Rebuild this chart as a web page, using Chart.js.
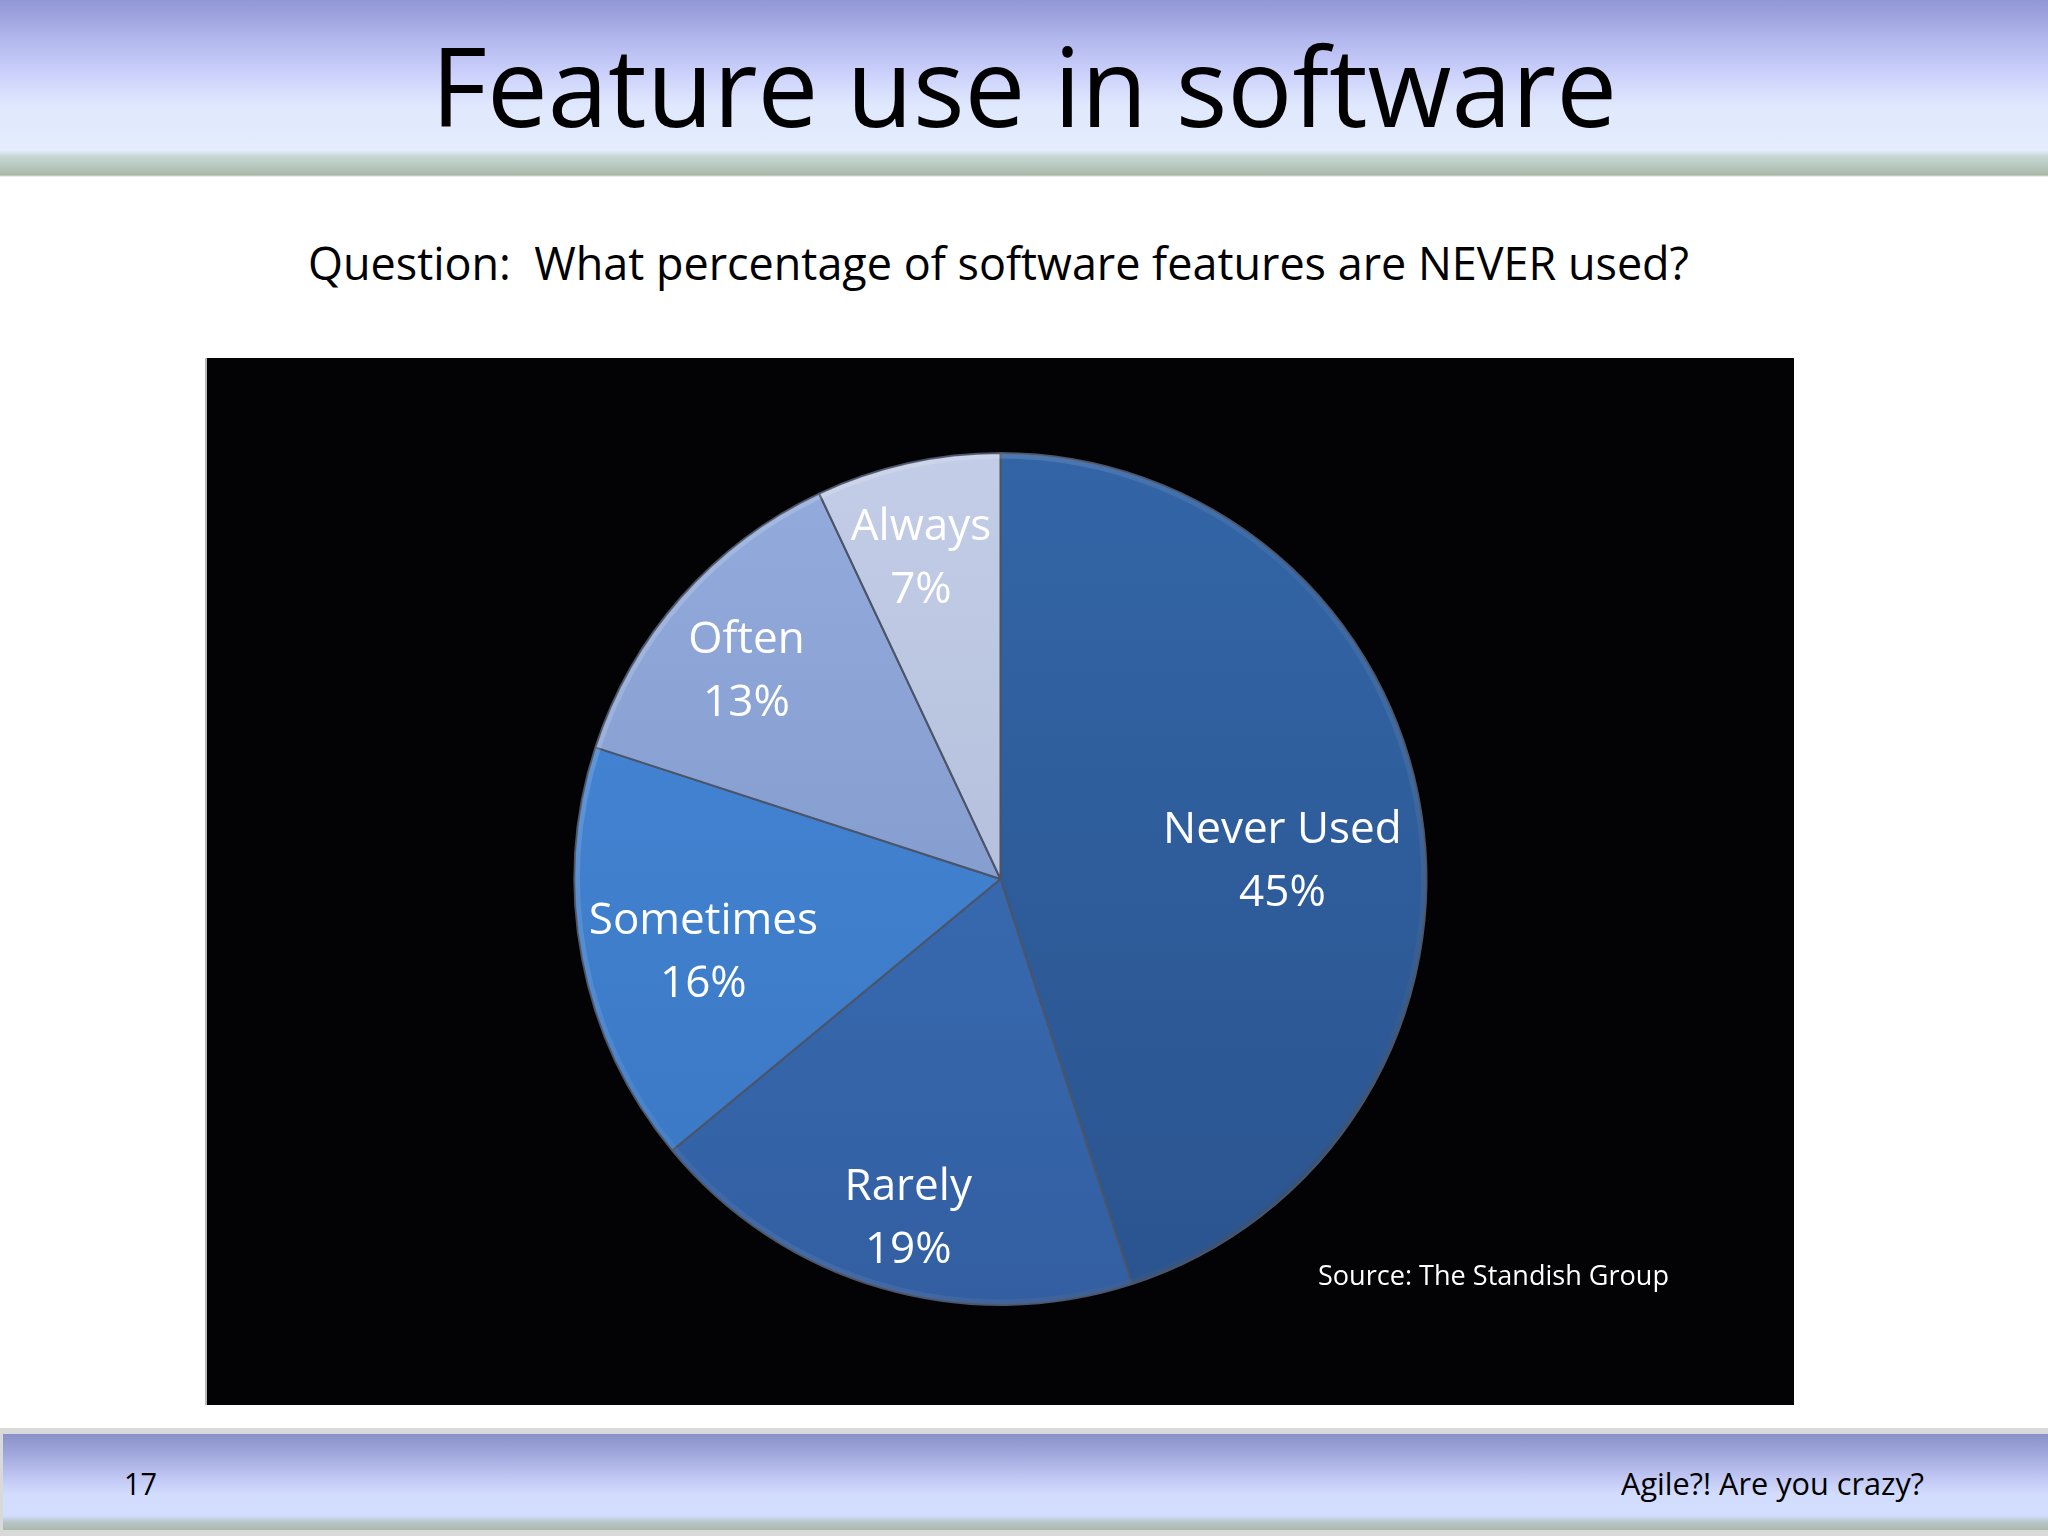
<!DOCTYPE html>
<html>
<head>
<meta charset="utf-8">
<script src="https://cdn.jsdelivr.net/npm/chart.js@4.4.1/dist/chart.umd.min.js"></script>
<style>
    html, body { margin: 0; padding: 0; }
    body {
        width: 2048px; height: 1536px; position: relative; overflow: hidden;
        background: #ffffff; font-family: 'Open Sans', 'Noto Sans', sans-serif;
    }
    .header {
        position: absolute; left: 0; top: 0; width: 2048px; height: 177px;
        background: linear-gradient(to bottom,
            #9196d5 0px, #b3b8ee 40px, #ccd2fb 75px, #dfe8fd 105px, #e4edfd 150px,
            #c9d8d6 156px, #a9b8a8 175px, #ffffff 177px);
    }
    .footer-line {
        position: absolute; left: 0; top: 1428px; width: 2048px; height: 108px;
        background: #d9d9d9;
    }
    .footer {
        position: absolute; left: 3px; top: 1434px; width: 2045px; height: 96px;
        background: linear-gradient(to bottom,
            #8991c8 0px, #a3aade 22px, #c2c9f4 45px, #d2dcfd 60px, #d3ddfd 82px,
            #b6c6c6 88px, #aab8ad 96px);
    }
    .txt {
        position: absolute; white-space: nowrap; line-height: 1; color: #000;
        transform-origin: left top;
    }
    #chart-box {
        position: absolute; left: 205px; top: 358px; width: 1587px; height: 1047px;
        background: #030305; border-left: 2px solid #b8b8b8;
    }
</style>
</head>
<body>
<div class="header"></div>
<div class="footer-line"></div>
<div class="footer"></div>

<div class="txt" id="title" data-w="1186" style="left:431px; top:29px; font-size:110px;">Feature use in software</div>
<div class="txt" id="question" data-w="1381" style="left:308px; top:240px; font-size:45px;">Question:&nbsp; What percentage of software features are NEVER used?</div>
<div class="txt" id="slide-no" data-w="33" style="left:124px; top:1468px; font-size:31px;">17</div>
<div class="txt" id="footer-text" data-w="303" style="left:1621px; top:1468px; font-size:31px;">Agile?! Are you crazy?</div>

<div id="chart-box"><canvas id="pie-chart"></canvas></div>
<div class="txt" id="source" data-w="351" style="left:1318px; top:1260px; font-size:28px; color:#ffffff;">Source: The Standish Group</div>

<script>
const categories = ['Never Used', 'Rarely', 'Sometimes', 'Often', 'Always'];
const percentages = [45, 19, 16, 13, 7];

// top / bottom colour of each slice's gradient
const sliceTop = ['#3365a6', '#3b72ba', '#4689d8', '#93acdd', '#c3cde7'];
const sliceBottom = ['#2a548f', '#335fa2', '#3a76c2', '#7890c2', '#a7b4d2'];

// label placement: fraction of radius along the slice middle, plus a small nudge
const labelRadius = [0.67, 0.81, 0.71, 0.77, 0.77];
const labelNudge = [[0, 27], [4, 8], [0, 17], [-8, 9], [-8, 0]];

document.addEventListener('DOMContentLoaded', () => {
    fitTexts();
    renderPie();
});

function fitTexts() {
    document.querySelectorAll('.txt[data-w]').forEach(el => {
        const target = parseFloat(el.dataset.w);
        const actual = el.getBoundingClientRect().width;
        if (actual > 0) el.style.transform = `scaleX(${target / actual})`;
    });
}

function sliceGradient(ctx) {
    const chart = ctx.chart;
    const area = chart.chartArea;
    if (!area) return sliceTop[ctx.dataIndex];
    const g = chart.ctx.createLinearGradient(0, area.top, 0, area.bottom);
    g.addColorStop(0, sliceTop[ctx.dataIndex]);
    g.addColorStop(1, sliceBottom[ctx.dataIndex]);
    return g;
}

const bevelPlugin = {
    id: 'bevel',
    afterDatasetsDraw(chart) {
        const ctx = chart.ctx;
        chart.getDatasetMeta(0).data.forEach(arc => {
            const { x, y, startAngle, endAngle, outerRadius } = arc.getProps(['x', 'y', 'startAngle', 'endAngle', 'outerRadius'], true);
            const g = ctx.createLinearGradient(x - outerRadius, y - outerRadius, x + outerRadius, y + outerRadius);
            g.addColorStop(0, 'rgba(255,255,255,0.22)');
            g.addColorStop(0.5, 'rgba(255,255,255,0.04)');
            g.addColorStop(1, 'rgba(0,0,0,0.30)');
            ctx.save();
            ctx.beginPath();
            ctx.arc(x, y, outerRadius - 3, startAngle, endAngle);
            ctx.strokeStyle = g;
            ctx.lineWidth = 5;
            ctx.stroke();
            ctx.restore();
        });
    }
};

const sliceLabelPlugin = {
    id: 'sliceLabels',
    afterDatasetsDraw(chart) {
        const ctx = chart.ctx;
        const values = chart.data.datasets[0].data;
        chart.getDatasetMeta(0).data.forEach((arc, i) => {
            const { x, y, startAngle, endAngle, outerRadius } = arc.getProps(['x', 'y', 'startAngle', 'endAngle', 'outerRadius'], true);
            const mid = (startAngle + endAngle) / 2;
            const r = outerRadius * labelRadius[i];
            const cx = x + Math.cos(mid) * r + labelNudge[i][0];
            const cy = y + Math.sin(mid) * r + labelNudge[i][1];
            ctx.save();
            ctx.fillStyle = '#ffffff';
            ctx.font = '44px "Open Sans", "Noto Sans", sans-serif';
            ctx.textAlign = 'center';
            ctx.textBaseline = 'middle';
            ctx.fillText(chart.data.labels[i], cx, cy - 31);
            ctx.fillText(values[i] + '%', cx, cy + 32);
            ctx.restore();
        });
    }
};

function renderPie() {
    const ctx = document.getElementById('pie-chart').getContext('2d');
    new Chart(ctx, {
        type: 'pie',
        data: {
            labels: categories,
            datasets: [{
                data: percentages,
                backgroundColor: sliceGradient,
                borderColor: '#4b5468',
                borderWidth: 2,
                hoverOffset: 0
            }]
        },
        options: {
            responsive: true,
            maintainAspectRatio: false,
            animation: false,
            layout: { padding: { top: 94, bottom: 99, left: 0, right: 0 } },
            plugins: {
                legend: { display: false },
                tooltip: { enabled: false }
            }
        },
        plugins: [bevelPlugin, sliceLabelPlugin]
    });
}
</script>
</body>
</html>
